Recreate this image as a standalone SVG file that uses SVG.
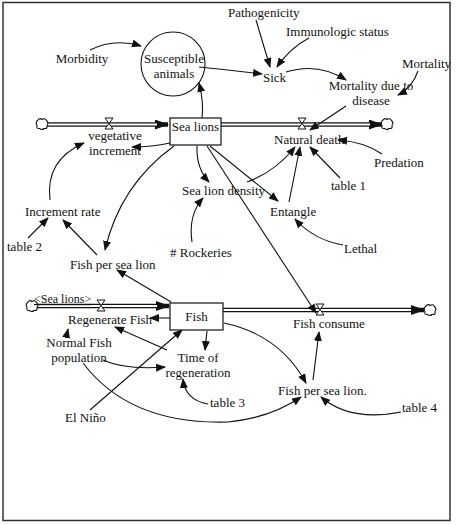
<svg xmlns="http://www.w3.org/2000/svg" width="456" height="525" viewBox="0 0 456 525">
<defs>
<style>
text{font-family:"Liberation Serif","Times New Roman","DejaVu Serif",serif;font-size:13px;fill:#111}
.c{text-anchor:middle}
.ln{fill:none;stroke:#111;stroke-width:1.1}
.pipeo{fill:none;stroke:#111;stroke-width:4.5}
.pipei{fill:none;stroke:#fff;stroke-width:1.8}
.box{fill:#fff;stroke:#111;stroke-width:1.2}
.valve{fill:#fff;stroke:#111;stroke-width:1}
.cloud{fill:#fff;stroke:#111;stroke-width:1.1}
</style>
<marker id="a" markerUnits="userSpaceOnUse" markerWidth="10" markerHeight="8" refX="9" refY="4" orient="auto"><path d="M0,0 L10,4 L0,8 Z" fill="#111"/></marker>
<marker id="fa" markerUnits="userSpaceOnUse" markerWidth="14" markerHeight="10" refX="13" refY="5" orient="auto"><path d="M0,0 L14,5 L0,10 Z" fill="#111"/></marker>
<symbol id="cl" viewBox="-6 -6 12 12" overflow="visible"><path class="cloud" d="M-4,-4 Q-2,-6.5 0,-4.5 Q3,-6.5 4.5,-3.5 Q7,-1 5,1.5 Q6,5 2,4.5 Q0,6.5 -2.5,4.5 Q-6,5 -5,1.5 Q-7,-1.5 -4,-4 Z"/></symbol>
</defs>
<rect x="3" y="2.5" width="447" height="518" fill="#fff" stroke="#333" stroke-width="1.5"/>

<g id="connectors">
<g id="flow-veg">
<path class="pipeo" d="M46,124.5 H168" marker-end="url(#fa)"/>
<path class="pipei" d="M46,124.5 H157"/>
</g>
<g id="flow-death">
<path class="pipeo" d="M221,124.5 H382" marker-end="url(#fa)"/>
<path class="pipei" d="M221,124.5 H370"/>
</g>
<g id="flow-regen">
<path class="pipeo" d="M36,306 H169" marker-end="url(#fa)"/>
<path class="pipei" d="M36,306 H157"/>
</g>
<g id="flow-consume">
<path class="pipeo" d="M223,310 H424" marker-end="url(#fa)"/>
<path class="pipei" d="M223,310 H411"/>
</g>
<path class="ln" d="M90,50 Q114,38 141,46" marker-end="url(#a)"/>
<path class="ln" d="M199,67 Q230,70 262,74" marker-end="url(#a)"/>
<path class="ln" d="M256,20 L270,67" marker-end="url(#a)"/>
<path class="ln" d="M309,38 Q290,48 277,67" marker-end="url(#a)"/>
<path class="ln" d="M286,72 Q318,62 346,80" marker-end="url(#a)"/>
<path class="ln" d="M418,71 Q412,88 398,95" marker-end="url(#a)"/>
<path class="ln" d="M346,106 L310,130" marker-end="url(#a)"/>
<path class="ln" d="M202,118 Q204,102 199,83" marker-end="url(#a)"/>
<path class="ln" d="M170,143 Q152,147 132,147" marker-end="url(#a)"/>
<path class="ln" d="M50,200 Q45,160 84,143" marker-end="url(#a)"/>
<path class="ln" d="M174,146 Q120,185 105,250" marker-end="url(#a)"/>
<path class="ln" d="M197,146 Q196,168 209,182" marker-end="url(#a)"/>
<path class="ln" d="M210,146 L278,201" marker-end="url(#a)"/>
<path class="ln" d="M207,146 L316,313" marker-end="url(#a)"/>
<path class="ln" d="M247,182 Q275,172 295,147" marker-end="url(#a)"/>
<path class="ln" d="M289,202 L300,147" marker-end="url(#a)"/>
<path class="ln" d="M340,178 L310,147" marker-end="url(#a)"/>
<path class="ln" d="M382,154 Q365,142 338,140" marker-end="url(#a)"/>
<path class="ln" d="M343,245 Q314,240 295,219" marker-end="url(#a)"/>
<path class="ln" d="M192,242 Q188,215 203,198" marker-end="url(#a)"/>
<path class="ln" d="M28,238 L48,218" marker-end="url(#a)"/>
<path class="ln" d="M97,255 L63,220" marker-end="url(#a)"/>
<path class="ln" d="M171,302 L117,270" marker-end="url(#a)"/>
<path class="ln" d="M170,318 L150,318" marker-end="url(#a)"/>
<path class="ln" d="M167,350 L115,327" marker-end="url(#a)"/>
<path class="ln" d="M90,410 L182,330" marker-end="url(#a)"/>
<path class="ln" d="M66,338 L68,329" marker-end="url(#a)"/>
<path class="ln" d="M103,360 Q125,370 165,367" marker-end="url(#a)"/>
<path class="ln" d="M83,363 Q130,425 228,422 Q270,418 301,397" marker-end="url(#a)"/>
<path class="ln" d="M208,404 Q185,400 183,379" marker-end="url(#a)"/>
<path class="ln" d="M207,331 L205,350" marker-end="url(#a)"/>
<path class="ln" d="M224,323 Q280,335 306,383" marker-end="url(#a)"/>
<path class="ln" d="M313,380 L319,332" marker-end="url(#a)"/>
<path class="ln" d="M401,412 Q350,422 321,397" marker-end="url(#a)"/>
</g>

<g id="valve-veg"><path class="valve" d="M105,118 H113 L105,129 H113 Z"/></g>
<g id="valve-death"><path class="valve" d="M298,118 H306 L298,129 H306 Z"/></g>
<g id="valve-regen"><path class="valve" d="M97,300 H105 L97,311 H105 Z"/></g>
<g id="valve-consume"><path class="valve" d="M316,304 H324 L316,315 H324 Z"/></g>
<g id="cloud-1"><use href="#cl" x="36" y="118" width="12" height="12"/></g>
<g id="cloud-2"><use href="#cl" x="381" y="118" width="12" height="12"/></g>
<g id="cloud-3"><use href="#cl" x="26" y="300" width="12" height="12"/></g>
<g id="cloud-4"><use href="#cl" x="424" y="304" width="12" height="12"/></g>

<g font-family="Liberation Serif, Times New Roman, serif">
<g id="morbidity"><text x="82" y="63" class="c">Morbidity</text></g>
<g id="susceptible"><circle cx="173" cy="64" r="32" fill="none" stroke="#111" stroke-width="1.1"/><text x="174" y="63" class="c">Susceptible</text><text x="174" y="78" class="c">animals</text></g>
<g id="pathogenicity"><text x="228" y="17">Pathogenicity</text></g>
<g id="immunologic"><text x="286" y="36">Immunologic status</text></g>
<g id="mortality"><text x="402" y="68">Mortality</text></g>
<g id="sick"><text x="263" y="82">Sick</text></g>
<g id="mortality-disease"><text x="371" y="90" class="c">Mortality due to</text><text x="371" y="105" class="c">disease</text></g>
<g id="sea-lions"><rect class="box" x="170" y="118" width="51" height="27"/><text x="195.5" y="131" class="c">Sea lions</text></g>
<g id="vegetative"><text x="115" y="140" class="c">vegetative</text><text x="115" y="155" class="c">increment</text></g>
<g id="natural-death"><text x="274" y="144">Natural death</text></g>
<g id="predation"><text x="374" y="167">Predation</text></g>
<g id="table1"><text x="331" y="190">table 1</text></g>
<g id="density"><text x="182" y="195">Sea lion density</text></g>
<g id="entangle"><text x="270" y="216">Entangle</text></g>
<g id="lethal"><text x="344" y="253">Lethal</text></g>
<g id="rockeries"><text x="170" y="257"># Rockeries</text></g>
<g id="increment-rate"><text x="25" y="216">Increment rate</text></g>
<g id="table2"><text x="7" y="251">table 2</text></g>
<g id="fish-per-sea-lion"><text x="70" y="269">Fish per sea lion</text></g>
<g id="sea-lions-ghost"><text x="34" y="303" style="font-size:12px;text-decoration:underline">&lt;Sea lions&gt;</text></g>
<g id="fish"><rect class="box" x="170" y="303" width="53" height="27"/><text x="196.5" y="321" class="c">Fish</text></g>
<g id="regenerate"><text x="68" y="324">Regenerate Fish</text></g>
<g id="fish-consume"><text x="293" y="328">Fish consume</text></g>
<g id="normal-fish"><text x="79" y="347" class="c">Normal Fish</text><text x="79" y="362" class="c">population</text></g>
<g id="time-regen"><text x="198" y="362" class="c">Time of</text><text x="198" y="377" class="c">regeneration</text></g>
<g id="table3"><text x="210" y="407">table 3</text></g>
<g id="fish-per-sea-lion2"><text x="278" y="395">Fish per sea lion.</text></g>
<g id="table4"><text x="402" y="412">table 4</text></g>
<g id="el-nino"><text x="65" y="422">El Niño</text></g>
</g>
</svg>
